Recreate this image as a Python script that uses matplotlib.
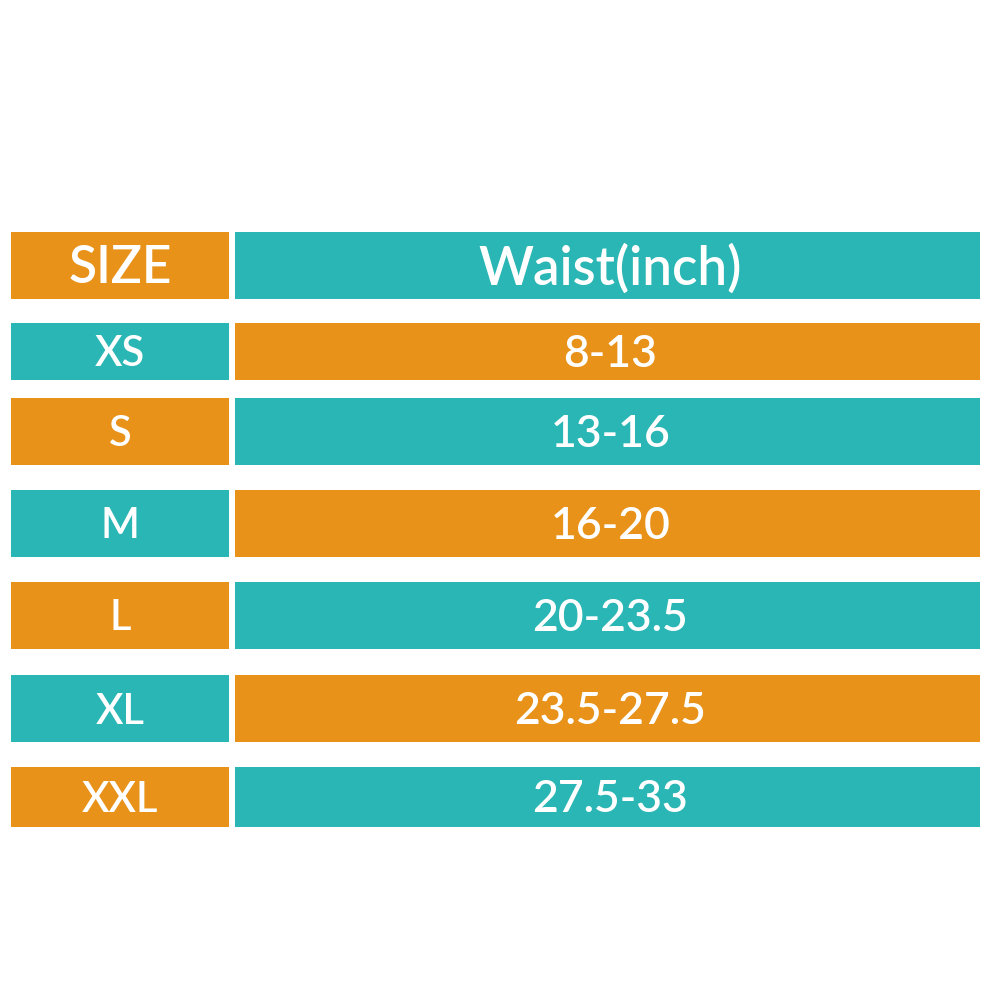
import matplotlib.pyplot as plt

# size chart data
header = ['SIZE', 'Waist(inch)']
sizes = ['XS', 'S', 'M', 'L', 'XL', 'XXL']
waist = ['8-13', '13-16', '16-20', '20-23.5', '23.5-27.5', '27.5-33']

ORANGE = '#E8921A'
TEAL = '#2AB6B4'

# layout in pixel units (figure is 990x990)
row_top = [232, 323, 398, 490, 582, 675, 767]
row_h = [67, 57, 67, 67, 67, 67, 60]
col_left = [11, 235]
col_w = [218, 745]

plt.rcParams['font.family'] = ['Lato', 'DejaVu Sans']

fig = plt.figure(figsize=(9.9, 9.9), dpi=100)
ax = fig.add_axes([0, 0, 1, 1])
ax.set_xlim(0, 990)
ax.set_ylim(990, 0)
ax.axis('off')

rows = [header] + list(zip(sizes, waist))
for i, (left_txt, right_txt) in enumerate(rows):
    y = row_top[i] + row_h[i] / 2
    # header and odd rows: orange | teal ; even rows swap
    if i % 2 == 0:
        c1, c2 = ORANGE, TEAL
    else:
        c1, c2 = TEAL, ORANGE
    ax.barh(y, col_w[0], left=col_left[0], height=row_h[i], color=c1)
    ax.barh(y, col_w[1], left=col_left[1], height=row_h[i], color=c2)
    fs1 = 37 if i == 0 else 30
    fs2 = 38 if i == 0 else 32
    ax.text(col_left[0] + col_w[0] / 2, y + 3, left_txt, color='white',
            fontsize=fs1, ha='center', va='center', fontweight='semibold')
    ax.text(col_left[1] + col_w[1] / 2 + 3, y + 3, right_txt, color='white',
            fontsize=fs2, ha='center', va='center', fontweight='semibold')

fig.savefig('out.png', dpi=100)
